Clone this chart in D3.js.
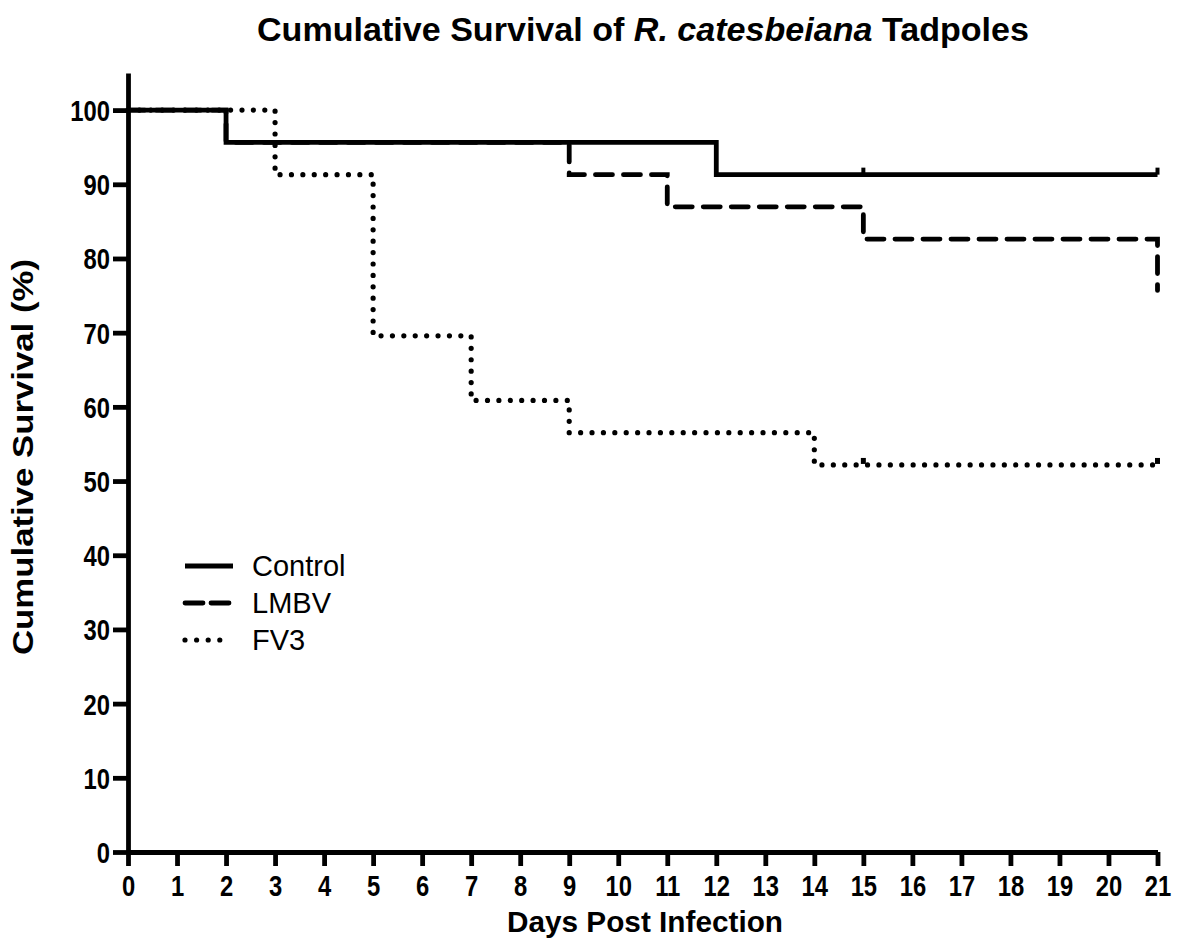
<!DOCTYPE html>
<html>
<head>
<meta charset="utf-8">
<script src="https://cdn.jsdelivr.net/npm/d3@7/dist/d3.min.js"></script>
<style>
  html, body { margin: 0; padding: 0; background: #fff; }
  svg { display: block; }
  text { font-family: "Liberation Sans", Arial, sans-serif; fill: #000; }
</style>
</head>
<body>
<svg id="chart" width="1178" height="949"></svg>
<script>
// ---- data ----
const seriesNames = ["Control", "LMBV", "FV3"];
const controlDays = [0, 2, 12, 21];
const controlSurv = [100, 95.65, 91.3, 91.3];
const lmbvDays = [0, 2, 9, 11, 15, 21];
const lmbvSurv = [100, 95.65, 91.3, 86.96, 82.61, 75.7];
const fv3Days = [0, 3, 5, 7, 9, 14, 21];
const fv3Surv = [100, 91.3, 69.57, 60.87, 56.52, 52.17, 52.17];
const controlCensored = [15, 21];
const fv3Censored = [15, 21];
const xTicks = d3.range(0, 22, 1);
const yTicks = d3.range(0, 101, 10);

// ---- layout ----
const svg = d3.select("#chart");
const x = d3.scaleLinear().domain([0, 21]).range([128, 1157.5]);
const y = d3.scaleLinear().domain([0, 105]).range([852, 73]);

function condense(sel, k) {
  sel.each(function () {
    const w = this.getComputedTextLength();
    d3.select(this).attr("textLength", w * k).attr("lengthAdjust", "spacingAndGlyphs");
  });
}
function fitWidth(sel, w) {
  sel.attr("textLength", w).attr("lengthAdjust", "spacingAndGlyphs");
}

const AW = 4.8;

// axes
const yAxis = svg.append("g").attr("transform", "translate(128,0)")
  .call(d3.axisLeft(y).tickValues(yTicks).tickSize(15).tickPadding(3).tickSizeOuter(0));
const xAxis = svg.append("g").attr("transform", "translate(0,852)")
  .call(d3.axisBottom(x).tickValues(xTicks).tickSize(14).tickPadding(9).tickSizeOuter(0));
[yAxis, xAxis].forEach(g => {
  g.select(".domain").attr("stroke", "#000").attr("stroke-width", AW);
  g.selectAll(".tick line").attr("stroke", "#000").attr("stroke-width", AW);
  g.selectAll(".tick text")
    .style("font-family", "'Liberation Sans', Arial, sans-serif")
    .style("font-weight", "bold").style("font-size", "29px").attr("fill", "#000");
});
yAxis.selectAll(".tick text").attr("dy", "0.36em");
condense(yAxis.selectAll(".tick text"), 0.82);
condense(xAxis.selectAll(".tick text"), 0.82);

// lines
const stepLine = d3.line().x(d => x(d[0])).y(d => y(d[1])).curve(d3.curveStepAfter);
const styles = {
  Control: { dash: null, width: 4.8, cap: "butt" },
  LMBV: { dash: "17 11", width: 4.8, cap: "round" },
  FV3: { dash: "0 11.4", width: 5.2, cap: "round" }
};
const seriesData = {
  Control: d3.zip(controlDays, controlSurv),
  LMBV: d3.zip(lmbvDays, lmbvSurv),
  FV3: d3.zip(fv3Days, fv3Surv)
};
const plot = svg.append("g");
["LMBV", "FV3", "Control"].forEach(name => {
  const s = styles[name];
  plot.append("path")
    .datum(seriesData[name])
    .attr("d", stepLine)
    .attr("fill", "none")
    .attr("stroke", "#000")
    .attr("stroke-width", s.width)
    .attr("stroke-linecap", s.cap)
    .attr("stroke-linejoin", "miter")
    .attr("stroke-dasharray", s.dash);
});

// censor marks
function survAt(days, surv, t) {
  let v = surv[0];
  for (let i = 0; i < days.length; i++) if (days[i] <= t) v = surv[i]; else break;
  return v;
}
controlCensored.forEach(t => {
  const v = survAt(controlDays, controlSurv, t);
  plot.append("line").attr("x1", x(t)).attr("x2", x(t))
    .attr("y1", y(v)).attr("y2", y(v) - 7)
    .attr("stroke", "#000").attr("stroke-width", 4);
});
fv3Censored.forEach(t => {
  const v = survAt(fv3Days, fv3Surv, t);
  plot.append("line").attr("x1", x(t)).attr("x2", x(t))
    .attr("y1", y(v) - 1).attr("y2", y(v) - 7)
    .attr("stroke", "#000").attr("stroke-width", 5);
});

// legend
const legend = svg.append("g");
const legY = [566, 603, 640];
seriesNames.forEach((name, i) => {
  const s = styles[name];
  legend.append("line")
    .attr("x1", 185).attr("x2", name === "FV3" ? 224 : 233)
    .attr("y1", legY[i]).attr("y2", legY[i])
    .attr("stroke", "#000").attr("stroke-width", s.width)
    .attr("stroke-linecap", name === "Control" ? "butt" : "round")
    .attr("stroke-dasharray", name === "LMBV" ? "18 8" : (name === "FV3" ? "0 11.6" : null));
  legend.append("text").attr("x", 252).attr("y", legY[i]).attr("dy", "0.36em")
    .style("font-size", "29px").text(name);
});

// title
const title = svg.append("text").attr("x", 643).attr("y", 41)
  .attr("text-anchor", "middle").style("font-weight", "bold").style("font-size", "33px");
title.append("tspan").text("Cumulative Survival of ");
title.append("tspan").style("font-style", "italic").text("R. catesbeiana");
title.append("tspan").text(" Tadpoles");
fitWidth(title, 772);

// axis titles
const xl = svg.append("text").attr("x", 645).attr("y", 932).attr("text-anchor", "middle")
  .style("font-weight", "bold").style("font-size", "29px").text("Days Post Infection");
fitWidth(xl, 276);
const yl = svg.append("text").attr("transform", "translate(33,457) rotate(-90)")
  .attr("text-anchor", "middle").style("font-weight", "bold").style("font-size", "29px")
  .text("Cumulative Survival (%)");
fitWidth(yl, 396);
</script>
</body>
</html>
